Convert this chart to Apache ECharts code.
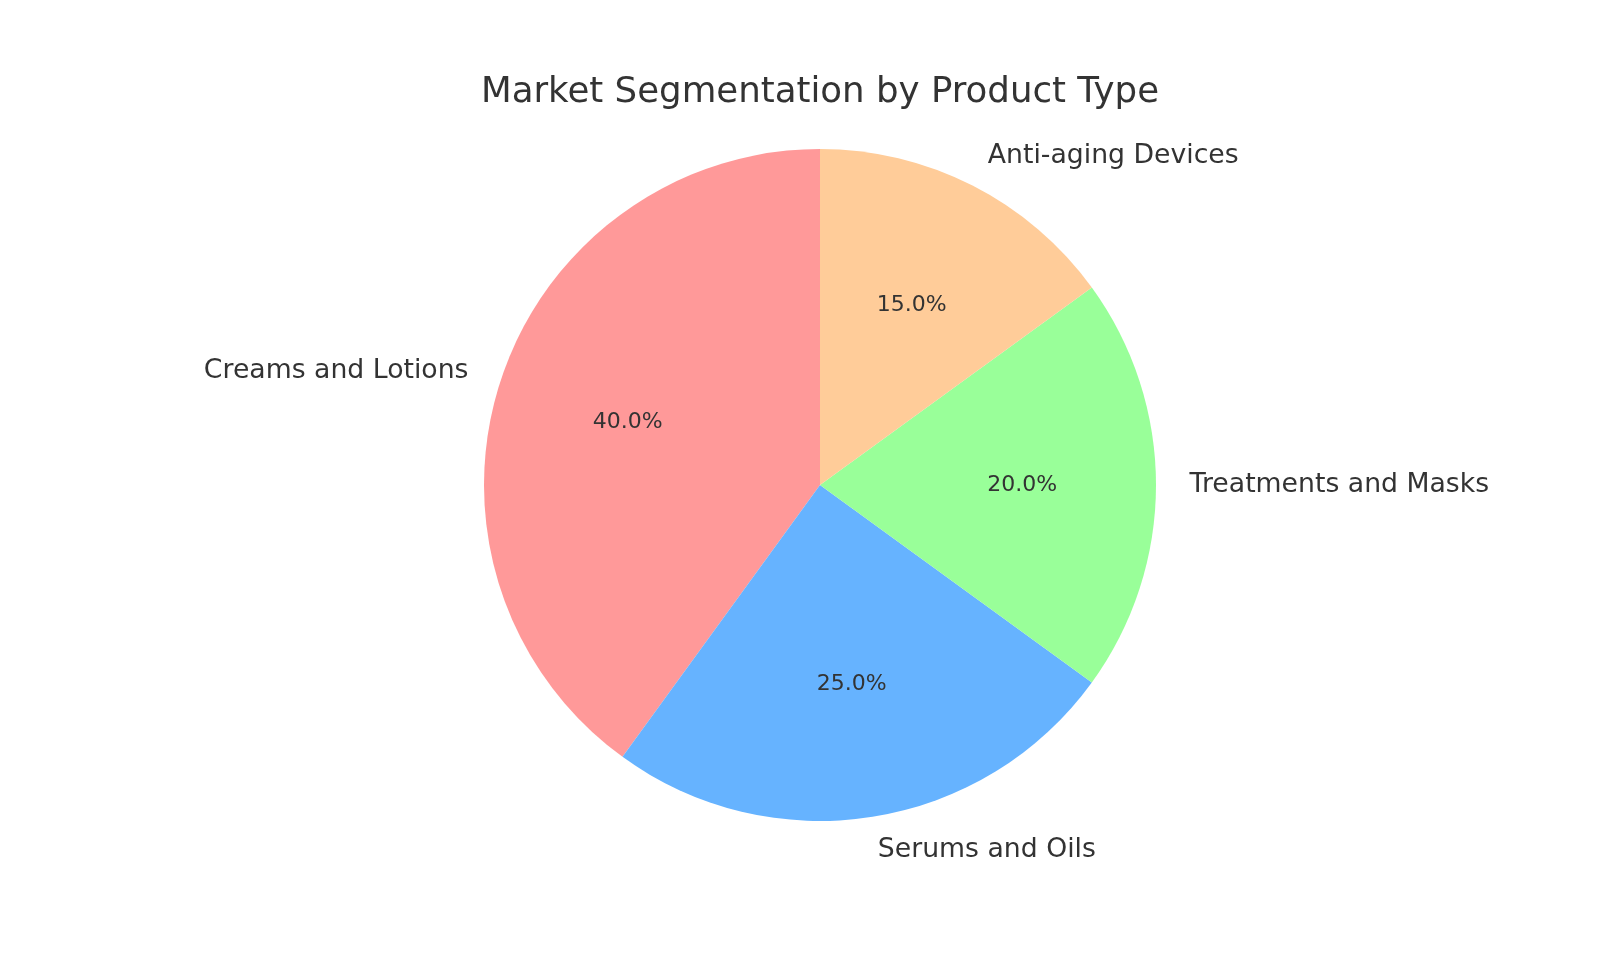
<!DOCTYPE html>
<html><head><meta charset="utf-8">
<script src="https://cdn.jsdelivr.net/npm/echarts@6/dist/echarts.min.js"></script>
<style>html,body{margin:0;padding:0;background:#fff}#c{width:1600px;height:960px}</style>
</head><body><div id="c"></div>
<script>
const categories = ['Creams and Lotions', 'Serums and Oils', 'Treatments and Masks', 'Anti-aging Devices'];
const shares = [40, 25, 20, 15];
const colors = ['#ff9999', '#66b3ff', '#99ff99', '#ffcc99'];
const titleText = 'Market Segmentation by Product Type';

const R = 336, CX = 820, CY = 485;
const font = 'DejaVu Sans';
const data = categories.map((c, i) => ({ name: c, value: shares[i], itemStyle: { color: colors[i] } }));
const total = shares.reduce((a, b) => a + b, 0);

const chart = echarts.init(document.getElementById('c'));
chart.setOption({
  animation: false,
  backgroundColor: '#ffffff',
  title: {
    text: titleText, left: CX - 5, textAlign: 'center', top: 70, padding: 5,
    textStyle: { fontFamily: font, fontSize: 35.6, fontWeight: 'normal', color: '#333333' }
  },
  series: [
    {
      type: 'pie', center: [CX, CY], radius: [0, R], startAngle: 90, clockwise: false,
      avoidLabelOverlap: false, minShowLabelAngle: 0, silent: true,
      itemStyle: { borderWidth: 0 },
      label: { show: true, position: 'outside', distanceToLabelLine: 0, fontFamily: font, fontSize: 26.7, color: '#333333', formatter: '{b}' },
      labelLine: { show: false, length: R * 0.1, length2: 0 },
      data: data
    },
    {
      type: 'pie', center: [CX, CY], radius: [0, R * 1.186], startAngle: 90, clockwise: false,
      avoidLabelOverlap: false, silent: true, z: 3,
      itemStyle: { color: 'rgba(0,0,0,0)', borderWidth: 0 },
      label: { show: true, position: 'inside', fontFamily: font, fontSize: 22, color: '#333333',
        formatter: p => (p.value / total * 100).toFixed(1) + '%' },
      labelLine: { show: false },
      data: categories.map((c, i) => ({ name: c, value: shares[i] }))
    }
  ]
});
</script></body></html>
